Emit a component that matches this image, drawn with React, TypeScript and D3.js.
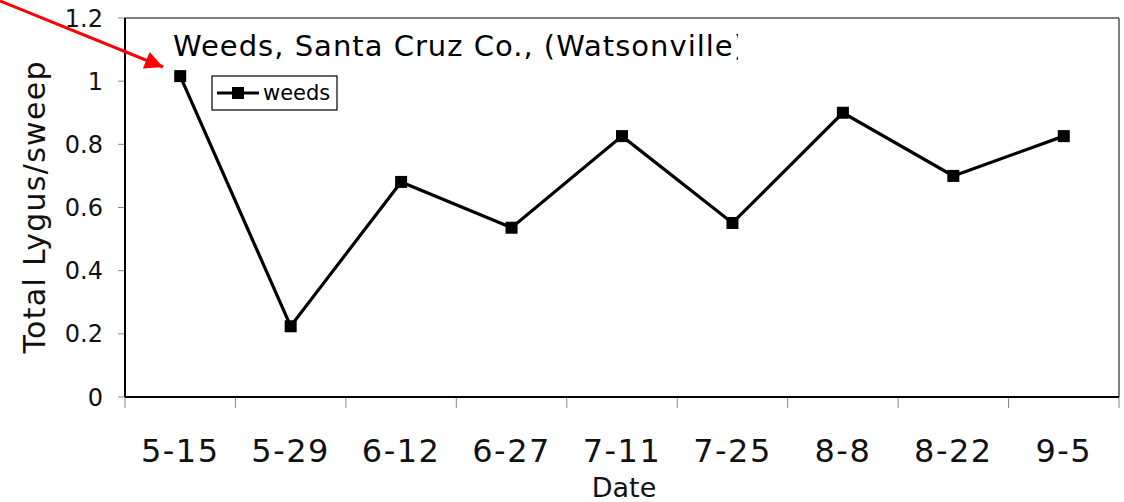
import React from "react";
import * as d3 from "d3";

const dates = ["5-15", "5-29", "6-12", "6-27", "7-11", "7-25", "8-8", "8-22", "9-5"];
const weeds = [1.016, 0.224, 0.681, 0.536, 0.826, 0.551, 0.9, 0.7, 0.826];
const yTicks = [0, 0.2, 0.4, 0.6, 0.8, 1, 1.2];

const W = 1124;
const H = 502;
const M = { left: 125, right: 1119, top: 18, bottom: 397 };
const FONT = "'DejaVu Sans', sans-serif";

export default function App() {
  const x = d3.scaleBand<string>().domain(dates).range([M.left, M.right]).paddingInner(0).paddingOuter(0);
  const y = d3.scaleLinear().domain([0, 1.2]).range([M.bottom, M.top]);
  const cx = (d: string) => (x(d) ?? 0) + x.bandwidth() / 2;
  const line = d3
    .line<number>()
    .x((_, i) => cx(dates[i]))
    .y((v) => y(v));
  const boundaries = [...dates.map((d) => x(d) ?? 0), M.right];
  const ms = 12;

  return (
    <svg
      width={W}
      height={H}
      style={{ position: "absolute", left: 0, top: 0, background: "#fff" }}
      fontFamily={FONT}
    >
      <defs>
        <clipPath id="titleClip">
          <rect x={M.left} y={0} width={738 - M.left} height={80} />
        </clipPath>
        <marker id="arrowHead" viewBox="0 0 10 10" refX="10" refY="5" markerWidth="8" markerHeight="6" markerUnits="strokeWidth" orient="auto">
          <path d="M0,0 L10,5 L0,10 Z" fill="#ff0000" />
        </marker>
      </defs>

      {/* frame: grey top/right, black axes */}
      <line x1={M.left} x2={M.right} y1={M.top} y2={M.top} stroke="#555" strokeWidth={1.5} />
      <line x1={M.right} x2={M.right} y1={M.top} y2={M.bottom} stroke="#555" strokeWidth={1.5} />

      {/* y ticks and labels */}
      {yTicks.map((t) => (
        <g key={t}>
          <line x1={M.left - 7} x2={M.left} y1={y(t)} y2={y(t)} stroke="#888" strokeWidth={1} />
          <text x={103} y={y(t)} dy="0.36em" textAnchor="end" fontSize={24} fill="#111">
            {d3.format("~g")(t)}
          </text>
        </g>
      ))}

      {/* x ticks at category boundaries */}
      {boundaries.map((b, i) => (
        <line key={i} x1={b} x2={b} y1={M.bottom} y2={M.bottom + 11} stroke="#888" strokeWidth={1} />
      ))}
      {dates.map((d) => (
        <text key={d} x={cx(d)} y={462} textAnchor="middle" fontSize={32} letterSpacing={1.5} fill="#111">
          {d}
        </text>
      ))}

      <line x1={M.left} x2={M.left} y1={M.top} y2={M.bottom} stroke="#000" strokeWidth={2} />
      <line x1={M.left} x2={M.right} y1={M.bottom} y2={M.bottom} stroke="#000" strokeWidth={2} />

      {/* axis titles */}
      <text x={624} y={497} textAnchor="middle" fontSize={27} fill="#111">
        Date
      </text>
      <text
        transform={`translate(45,${(M.top + M.bottom) / 2}) rotate(-90)`}
        textAnchor="middle"
        fontSize={30}
        textLength={292}
        fill="#111"
      >
        Total Lygus/sweep
      </text>

      {/* chart title, cut off at the right */}
      <text x={173} y={56} fontSize={29} textLength={572} fill="#000" clipPath="url(#titleClip)">
        Weeds, Santa Cruz Co., (Watsonville)
      </text>

      {/* series */}
      <path d={line(weeds) ?? ""} fill="none" stroke="#000" strokeWidth={3.2} strokeLinejoin="miter" />
      {weeds.map((v, i) => (
        <rect key={i} x={cx(dates[i]) - ms / 2} y={y(v) - ms / 2} width={ms} height={ms} fill="#000" />
      ))}

      {/* legend */}
      <rect x={212} y={76} width={125} height={34} fill="#fff" stroke="#000" strokeWidth={1.2} />
      <line x1={217} x2={259} y1={93} y2={93} stroke="#000" strokeWidth={3} />
      <rect x={238 - ms / 2} y={93 - ms / 2} width={ms} height={ms} fill="#000" />
      <text x={263} y={93} dy="0.35em" fontSize={21} fill="#000">
        weeds
      </text>

      {/* red pointer arrow */}
      <line x1={0} x2={163} y1={1} y2={67} stroke="#ff0000" strokeWidth={3} markerEnd="url(#arrowHead)" />
    </svg>
  );
}
